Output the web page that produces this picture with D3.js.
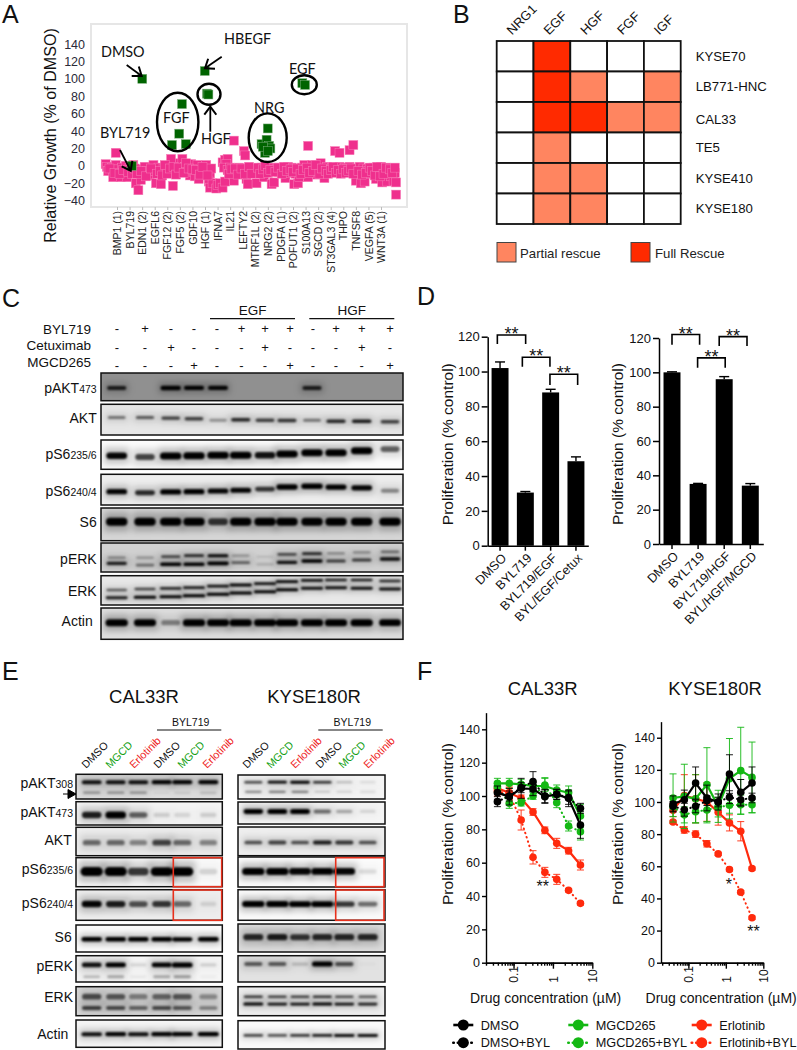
<!DOCTYPE html>
<html><head><meta charset="utf-8">
<script src="https://cdnjs.cloudflare.com/ajax/libs/d3/7.8.5/d3.min.js"></script>
<style>
html,body{margin:0;padding:0;background:#fff}
svg{display:block}
text{font-family:"Liberation Sans",Arial,sans-serif;fill:#111}
</style></head><body>
<script>
// ---------- Panel A data ----------
const screenTicks=["BMP1 (1)","BYL719","EDN1 (2)","EGFL6","FGF12 (2)","FGF5 (2)","GDF10","HGF (1)","IFNA7","IL21","LEFTY2","MTRF1L (2)","NRG2 (2)","PDGFA (1)","POFUT1 (2)","S100A13","SGCD (2)","ST3GAL3 (4)","THPO","TNFSF8","VEGFA (5)","WNT3A (1)"];
const screenTickValues=[140,120,100,80,60,40,20,0,-20,-40];
const screenPink=[[-0.9,2],[-0.8,-1],[-0.7,-6],[-0.4,-2],[-0.3,-13],[-0.1,1],[-0.1,15],[0.1,-4],[0.3,-13],[0.4,-2],[0.6,-7],[0.7,0],[0.8,-13],[1,-2],[1.1,-5],[1.3,1],[1.5,-20],[1.7,-4],[1.7,-28],[1.9,-16],[2.1,-8],[2.2,-1],[2.4,-6],[2.6,-11],[2.9,1],[3,-6],[3.1,-20],[3.3,-2],[3.5,-21],[3.7,-3],[3.9,-7],[4.1,-1],[4.3,8],[4.4,-5],[4.6,-7],[4.45,-23],[4.8,-5],[5,3],[5.1,-7],[5.2,8],[5.4,-1],[5.6,-5],[5.8,-11],[5.9,2],[6.1,-7],[6.2,-12],[6.4,1],[6.5,-15],[6.7,-6],[6.9,-9],[7,-2],[7.1,1],[7.3,-6],[7.4,-9],[7.5,-3],[7.3,-18],[7.4,-25],[7.6,-20],[7.9,-26],[8,-22],[8.2,-20],[8.4,-25],[8.6,-18],[8.4,4],[8.6,7],[8.8,8],[8.7,2],[8.5,-2],[8.8,-5],[9,-2],[9.2,-10],[9.3,-17],[9.5,-6],[9.7,-2],[10,-7],[10.1,-3],[10.3,-15],[10.4,-21],[10.6,-5],[10.8,-3],[11,-7],[11.1,-20],[11.3,-5],[11.5,-2],[11.7,-13],[11.9,-4],[12.1,-2],[12.3,-21],[12.4,-5],[12.5,-19],[12.7,-2],[12.9,-7],[13,-3],[13.2,-5],[13.4,-14],[13.6,-1],[13.7,-8],[13.9,-2],[14.1,-21],[14.2,-9],[14.4,-20],[14.5,-13],[14.7,-2],[14.9,1],[15,-6],[15.2,-13],[15.4,-5],[15.5,1],[15.7,-3],[15.9,-10],[16,-4],[16.2,3],[16.4,-8],[16.5,-14],[16.7,-1],[16.9,-4],[17.1,-2],[17.3,-6],[17.5,-3],[17.7,-1],[17.9,-5],[18.1,-2],[18.3,-4],[18.5,-1],[18.7,-7],[18.9,-4],[19,-17],[19.1,-3],[19.3,-1],[19.4,-20],[19.6,-3],[19.7,-18],[19.9,-4],[20,-6],[20.2,-9],[20.4,-2],[20.6,-15],[20.8,-7],[21,-1],[21.1,-19],[21.3,-4],[21.5,-18],[21.6,-7],[21.8,-12],[22,-3],[22,-17],[22.1,-8],[22.2,-19],[22.2,-33],[9.3,29],[10.1,17],[10.2,12],[15.2,23],[17.35,17],[17.7,15],[18.5,18],[18.8,24],
[-0.6,-3],[-0.2,-8],[0.2,-9],[0.5,-5],[0.9,-7],[1.2,-9],[1.4,-3],[1.6,-9],[1.9,-6],[2.3,-12],[2.7,-3],[3.2,-9],[3.4,-6],[3.6,-11],[3.8,1],[4,-9],[4.2,-3],[4.5,-1],[4.7,-10],[4.9,-2],[5.3,-8],[5.5,3],[5.7,-3],[6,-4],[6.3,-5],[6.6,-10],[6.8,-1],[7.2,-11],[8.9,-9],[9.1,-4],[9.4,-3],[9.6,-10],[9.9,-3],[10.2,-9],[10.5,-1],[10.7,-9],[11.2,-2],[11.4,-9],[11.6,-4],[11.8,0],[12,-8],[12.2,-5],[12.6,-7],[12.8,-2],[13.1,-9],[13.3,-1],[13.5,-6],[13.8,-4],[14,-7],[14.3,-3],[14.6,-9],[14.8,-5],[15.1,-2],[15.3,-8],[15.6,-6],[15.8,1],[16.1,-9],[16.3,-3],[16.6,-6],[16.8,-9],[17,-5],[17.2,-1],[17.4,-8],[17.6,-5],[17.8,-9],[18,-4],[18.2,-8],[18.4,-6],[18.6,-3],[18.8,-9],[19.2,-6],[19.5,-10],[19.8,-8],[20.1,-2],[20.3,-6],[20.5,-11],[20.7,-1],[20.9,-12],[21.2,-9],[21.4,-2],[21.7,-4],[21.9,-8],[22.1,-2]];
const screenGreen=[[2.01,100],[1.17,0],[6.98,109],[7.16,83],[7.27,82],[5.17,71],[4.95,37],[4.37,24],[5.47,25],[11.99,43],[11.5,25],[11.9,30],[12.1,23],[11.77,15],[12.2,20],[11.6,22],[12,17],[14.74,95],[14.96,93]];

// ---------- Panel B data ----------
const rescueLigands=["NRG1","EGF","HGF","FGF","IGF"];
const rescueLines=["KYSE70","LB771-HNC","CAL33","TE5","KYSE410","KYSE180"];
const rescueMatrix=[[0,2,0,0,0],[0,2,1,0,1],[0,2,2,1,1],[0,1,0,0,0],[0,1,1,0,0],[0,1,1,0,0]];

// ---------- Panel C data ----------
const cTreatBYL=["-","+","-","-","-","+","+","+","-","+","+","+"];
const cTreatCet=["-","-","+","-","-","-","+","-","-","-","+","-"];
const cTreatMGCD=["-","-","-","+","-","-","-","+","-","-","-","+"];
const cAktP473=[.7,0,.95,.9,.85,0,0,0,.7,0,0,0];
const cAkt=[.4,.5,.6,.6,.3,.7,.6,.65,.4,.7,.75,.6];
const cS6P235=[.85,.6,1,1,1,1,.8,1,1,1,1,.5];
const cS6P240=[.85,.7,.9,.9,.85,.85,.65,.95,1,.9,.85,.35];
const cS6=[1,1,1,1,.65,1,1,1,1,1,1,1];
const cErkPUpper=[.3,.25,.55,.7,.85,.25,.1,.55,.7,.3,.3,.4];
const cErkPLower=[.75,.4,.95,.95,1,.45,.15,.8,.95,.6,.6,.8];
const cErkUpper=[.5,.6,.7,.75,.8,.85,.8,.85,.8,.75,.75,.7];
const cErkLower=[.75,.85,.85,.9,.9,.9,.85,.85,.8,.8,.8,.8];
const cActin=[1,.95,.35,1,.95,1,.95,1,1,1,1,.9];
// relative migration of bands within each strip
const cMigAkt=[.43,.43,.45,.47,.52,.5,.52,.53,.52,.55,.55,.57];
const cMigS6P235=[.535,.58,.545,.535,.52,.52,.52,.48,.435,.435,.365,.31];
const cMigS6P240=[.565,.6,.575,.565,.545,.52,.48,.415,.39,.415,.44,.535];
const cMigErkPUpper=[.506,.506,.471,.437,.437,.437,.471,.391,.368,.356,.322,.299];
const cMigErkPLower=[.701,.759,.736,.736,.701,.678,.736,.667,.621,.621,.586,.552];
const cMigErkUpper=[.488,.454,.431,.409,.352,.317,.273,.205,.158,.147,.147,.181];
const cMigErkLower=[.751,.738,.715,.682,.636,.591,.545,.477,.431,.409,.431,.454];

// ---------- Panel D data ----------
const dLeftCats=["DMSO","BYL719","BYL719/EGF","BYL/EGF/Cetux"];
const dLeftVals=[102,30.5,88,48.5];
const dLeftErr=[3.5,0.6,1.8,2.5];
const dRightCats=["DMSO","BYL719","BYL719/HGF","BYL/HGF/MGCD"];
const dRightVals=[100,35,96,34];
const dRightErr=[0.3,0.3,1.5,1.2];

// ---------- Panel E data ----------
const eLaneNames=["DMSO","MGCD","Erlotinib","DMSO","MGCD","Erlotinib"];
const eL={a308u:[.8,.8,.8,.85,.85,.85],a308l:[.3,.3,.3,.05,.1,.15],a473:[.75,1,.5,.12,.1,.12],akt:[.45,.45,.35,.6,.45,.35],s235:[1,1,.65,.95,.95,.12],s240:[.85,.75,.55,.65,.45,.1],s6:[.95,.95,.95,.95,.9,1],perku:[.8,.95,.1,.85,1,.12],perkl:[.2,.25,.05,.25,.3,.03],erku:[.55,.5,.35,.45,.5,.3],erkl:[.6,.55,.45,.55,.5,.35],actin:[.8,.85,.8,.85,.85,.9]};
const eR={a308u:[.6,.85,.95,.7,.2,.1],a308l:[.35,.4,.4,.15,.12,.1],a473:[.95,1,1,.45,.25,.1],akt:[.55,.6,.55,.75,.65,.55],s235:[1,1,.85,.9,.85,.1],s240:[1,1,.9,.95,.65,.45],s6:[.7,.75,.65,.7,.7,.7],perku:[.5,.5,.15,1,.55,.02],perkl:[0,0,0,0,0,0],erku:[.65,.6,.6,.65,.55,.5],erkl:[.85,.8,.8,.85,.8,.75],actin:[.6,.55,.65,.75,.8,.8]};

// ---------- Panel F data ----------
const fConc=[0.039,0.078,0.156,0.3125,0.625,1.25,2.5,5];
const calDmso=[102,99.6,104.6,104.2,99.6,101,98.6,82.6], calDmsoE=[4,5,6,4,4,3,5,8];
const calDmsoB=[96.6,100,105,108.6,100,101,99,92.6], calDmsoBE=[3,3,3,6,4,3,4,3];
const calMgcd=[107.6,107.6,107,106,106,103.6,102,88], calMgcdE=[3,3,3,3,5,3,4,7];
const calMgcdB=[105.6,95.6,96,100,106.6,96,82,78.6], calMgcdBE=[3,3,2,2,4,3,3,5];
const calErl=[104.6,102,98.6,90.4,79.4,71.6,67.2,58.6], calErlE=[3,3,2,2,2,3,2,3];
const calErlB=[103,101,85.6,63.2,54.2,50,43.4,35.6], calErlBE=[3,5,6,4,3,3,1,1];
const kysDmso=[98.8,101.4,111.8,102.5,100,117.4,106,111.8], kysDmsoE=[5,6,10,8,5,12,8,10];
const kysDmsoB=[97.3,95.2,97.3,100.8,100,103,101.4,102.5], kysDmsoBE=[3,4,4,3,3,4,4,3];
const kysMgcd=[102.5,103.5,102,110.8,97.3,114.5,119.5,115.3], kysMgcdE=[15,20,15,23,10,25,27,22];
const kysMgcdB=[97,92,94,95,96.7,98,98.3,98.3], kysMgcdBE=[6,5,7,8,6,5,6,5];
const kysErl=[94.8,104,102,100,93.6,87,81.8,58.6], kysErlE=[4,13,15,12,8,5,6,1];
const kysErlB=[87.6,82.6,80,74,67.7,58,43.9,28], kysErlBE=[1,2,2,2,1,1,1,1];

// ---------- helpers ----------
const svg=d3.select("body").append("svg").attr("width",797).attr("height",1050).attr("viewBox","0 0 797 1050");
const defs=svg.append("defs");
[["b1",1.2],["b3",3.2]].forEach(([id,s])=>defs.append("filter").attr("id",id).attr("x","-30%").attr("y","-150%").attr("width","160%").attr("height","400%").append("feGaussianBlur").attr("stdDeviation",s));
defs.append("marker").attr("id","openHead").attr("markerUnits","userSpaceOnUse").attr("markerWidth",14).attr("markerHeight",14).attr("refX",11).attr("refY",7).attr("orient","auto")
 .append("path").attr("d","M3,1 L11,7 L3,13").attr("fill","none").attr("stroke","#000").attr("stroke-width",2);
function txt(g,x,y,s,size,opt={}){const t=g.append("text").attr("x",x).attr("y",y).attr("font-size",size).text(s);
 if(opt.anchor)t.attr("text-anchor",opt.anchor); if(opt.fill)t.style("fill",opt.fill); if(opt.family)t.style("font-family",opt.family); if(opt.rot!==undefined)t.attr("transform",`rotate(${opt.rot},${x},${y})`); return t;}
["A",2,23,"B",453,23,"C",2,307,"D",417,305,"E",2,680,"F",417,680].reduce((a,v,i,arr)=>{if(i%3===0)txt(svg,arr[i+1],arr[i+2],v,25);return a;},0);

// ---------- Panel A ----------
(function(){
 const g=svg.append("g");
 g.append("rect").attr("x",91).attr("y",24).attr("width",316).attr("height",183).attr("fill","#fff").attr("stroke","#e6e6e6").attr("stroke-width",2);
 const x=d3.scaleLinear().domain([0,21]).range([117,381]);
 const y=d3.scaleLinear().domain([-40,140]).range([200.7,44]);
 const ya=g.append("g").attr("transform","translate(87,0)").call(d3.axisLeft(y).tickValues(screenTickValues).tickSize(0).tickPadding(2));
 ya.select(".domain").remove(); ya.selectAll("text").attr("font-size",12.5).style("fill","#2a2a38");
 const xa=g.append("g").attr("transform","translate(0,207)").call(d3.axisBottom(x).tickValues(d3.range(22)).tickSize(3).tickFormat((d,i)=>screenTicks[i]));
 xa.select(".domain").remove(); xa.selectAll("line").attr("stroke","#bbb");
 xa.selectAll("text").attr("font-size",10.5).attr("y",0).attr("x",-4).attr("dy",".35em").attr("text-anchor","end").attr("transform","rotate(-90)").style("fill","#222");
 const sq=9;
 g.append("g").selectAll("rect").data(screenPink).join("rect").attr("x",d=>x(d[0])-sq/2).attr("y",d=>y(d[1])-sq/2).attr("width",sq).attr("height",sq).attr("fill","#ef2f8d").attr("stroke","#f77fb8").attr("stroke-width",.5);
 g.append("g").selectAll("rect").data(screenGreen).join("rect").attr("x",d=>x(d[0])-sq/2).attr("y",d=>y(d[1])-sq/2).attr("width",sq).attr("height",sq).attr("fill","#006400").attr("stroke","#7fb07f").attr("stroke-width",.5);
 const la={family:"Lato, 'Noto Sans', sans-serif"};
 [["DMSO",101,56.7],["HBEGF",224,44.3],["EGF",289,74],["NRG",254,113],["FGF",163,123],["HGF",201,144],["BYL719",100,138]].forEach(d=>txt(g,d[1],d[2],d[0],14.4,la));
 [[177.7,122,20.7,29.3],[209,94.3,11.5,10.5],[267.7,137.7,19,24.3],[304.3,84.7,12.5,9.5]].forEach(e=>g.append("ellipse").attr("cx",e[0]).attr("cy",e[1]).attr("rx",e[2]).attr("ry",e[3]).attr("fill","none").attr("stroke","#000").attr("stroke-width",2.4));
 [[126.7,65,141.7,76],[221.7,56.7,205,68.3],[210.3,131.7,210.3,106.7],[120,150,130.7,170.7]].forEach(a=>g.append("line").attr("x1",a[0]).attr("y1",a[1]).attr("x2",a[2]).attr("y2",a[3]).attr("stroke","#000").attr("stroke-width",1.8).attr("marker-end","url(#openHead)"));
 txt(g,56,135.5,"Relative Growth (% of DMSO)",16.1,{anchor:"middle",rot:-90});
})();

// ---------- Panel B ----------
(function(){
 const g=svg.append("g");
 const x=d3.scaleBand().domain(rescueLigands).range([496.7,680.7]);
 const y=d3.scaleBand().domain(rescueLines).range([41,224]);
 const col=d3.scaleOrdinal([0,1,2],["#ffffff","#ff8560","#ff2a00"]);
 rescueMatrix.forEach((row,r)=>row.forEach((v,c)=>g.append("rect").attr("x",x(rescueLigands[c])).attr("y",y(rescueLines[r])).attr("width",x.bandwidth()).attr("height",y.bandwidth()).attr("fill",col(v)).attr("stroke","#111").attr("stroke-width",1.8)));
 rescueLigands.forEach(l=>txt(g,x(l)+x.bandwidth()/2-3,35.5,l,13,{rot:-45}));
 rescueLines.forEach(l=>txt(g,695.7,y(l)+y.bandwidth()/2+4.5+(l==="CAL33"?2:0),l,13.2));
 [[497,"Partial rescue",520,1],[631,"Full Rescue",655,2]].forEach(d=>{g.append("rect").attr("x",d[0]).attr("y",242.5).attr("width",19).attr("height",19.5).attr("fill",col(d[3])).attr("stroke","#444").attr("stroke-width",1);txt(g,d[2],257.5,d[1],13.2,{fill:"#222"});});
})();

// ---------- Blot helper ----------
let clipN=0;
function blot(g,x0,x1,y0,y1,bg,laneX,laneW,bands){
 const id="cl"+(clipN++);
 defs.append("clipPath").attr("id",id).append("rect").attr("x",x0).attr("y",y0).attr("width",x1-x0).attr("height",y1-y0);
 const c=g.append("g").attr("clip-path",`url(#${id})`);
 c.append("rect").attr("x",x0).attr("y",y0).attr("width",x1-x0).attr("height",y1-y0).attr("fill",bg);
 const yS=d3.scaleLinear().domain([0,1]).range([y0,y1]);
 bands.forEach(b=>{
  const rows=b.ink.map((v,i)=>({i,v,m:Array.isArray(b.mig)?b.mig[i]:b.mig})).filter(d=>d.v>0);
  c.append("g").attr("filter","url(#b3)").selectAll("rect").data(rows).join("rect")
   .attr("x",d=>laneX(d.i)-laneW/2).attr("width",laneW)
   .attr("y",d=>yS(d.m)-b.h*1.2).attr("height",b.h*2.4)
   .attr("fill","#000").attr("fill-opacity",d=>d.v*.25);
  c.append("g").attr("filter","url(#b1)").selectAll("rect").data(rows).join("rect")
   .attr("x",d=>laneX(d.i)-laneW*(.33+.1*d.v)).attr("width",d=>laneW*(.66+.2*d.v))
   .attr("y",d=>yS(d.m)-b.h*(.3+.2*d.v)).attr("height",d=>b.h*(.6+.4*d.v)).attr("rx",d=>b.h*(.3+.2*d.v))
   .attr("fill","#000").attr("fill-opacity",d=>Math.min(1,d.v*1.15));
 });
 g.append("rect").attr("x",x0).attr("y",y0).attr("width",x1-x0).attr("height",y1-y0).attr("fill","none").attr("stroke","#111").attr("stroke-width",1.5);
}
function blotLabel(g,xr,y,main,sub,size=14){
 const t=g.append("text").attr("x",xr).attr("y",y).attr("text-anchor","end").attr("font-size",size).text(main);
 if(sub)t.append("tspan").attr("font-size",10.5).text(sub);
}

// ---------- Panel C ----------
(function(){
 const g=svg.append("g");
 const lanes=d3.scaleOrdinal(d3.range(12),[116.7,145,170.7,194,218,240.7,265,287,312,336,361.7,390]);
 const tx=d3.scaleOrdinal(d3.range(12),[117,145,171,194,217,241.5,265,290,313,336,361.7,390]);
 [[cTreatBYL,328,"BYL719",333.5],[cTreatCet,347,"Cetuximab",349.5],[cTreatMGCD,365,"MGCD265",367]].forEach(r=>{
  txt(g,91,r[3],r[2],13.5,{anchor:"end"});
  r[0].forEach((s,i)=>txt(g,tx(i),r[1]+4.5,s,13,{anchor:"middle"}));
 });
 [["EGF",210,295,252.7],["HGF",309.3,394.3,351.7]].forEach(d=>{g.append("line").attr("x1",d[1]).attr("x2",d[2]).attr("y1",318.7).attr("y2",318.7).attr("stroke","#111").attr("stroke-width",1.2);txt(g,d[3],315,d[0],13.5,{anchor:"middle"});});
 const X0=101,X1=403;
 blot(g,X0,X1,373,400.7,"#909090",lanes,24,[{ink:cAktP473,mig:.54,h:4.5}]);
 blot(g,X0,X1,404.3,435,"#e6e6e6",lanes,24,[{ink:cAkt,mig:cMigAkt,h:4}]);
 blot(g,X0,X1,440,469.3,"#fcfcfc",lanes,25,[{ink:cS6P235,mig:cMigS6P235,h:7}]);
 blot(g,X0,X1,474.3,505,"#eeeeee",lanes,25,[{ink:cS6P240,mig:cMigS6P240,h:5.5}]);
 blot(g,X0,X1,508,540.7,"#d6d6d6",lanes,25,[{ink:cS6,mig:.42,h:8}]);
 blot(g,X0,X1,543,572,"#d2d2d2",lanes,25,[{ink:cErkPUpper,mig:cMigErkPUpper,h:3.2},{ink:cErkPLower,mig:cMigErkPLower,h:3.6}]);
 blot(g,X0,X1,575.7,605,"#e8e8e8",lanes,27,[{ink:cErkUpper,mig:cMigErkUpper,h:3},{ink:cErkLower,mig:cMigErkLower,h:3.2}]);
 blot(g,X0,X1,608,639.3,"#dedede",lanes,26,[{ink:cActin,mig:.47,h:7}]);
 blotLabel(g,96.7,393,"pAKT","473");blotLabel(g,96.7,423,"AKT");blotLabel(g,96.7,459,"pS6","235/6");blotLabel(g,96.7,495.7,"pS6","240/4");
 blotLabel(g,96.7,527,"S6");blotLabel(g,96.7,564,"pERK");blotLabel(g,96.7,595.7,"ERK");blotLabel(g,92.7,626,"Actin");
})();

// ---------- Panel D ----------
function barPanel(cats,vals,errs,xr,y0,yTop,pInner,pOuter,lx,brackets){
 const g=svg.append("g");
 const x=d3.scaleBand().domain(cats).range(xr).paddingInner(pInner).paddingOuter(pOuter);
 const y=d3.scaleLinear().domain([0,120]).range([y0,yTop]);
 g.selectAll("rect.bar").data(vals).join("rect").attr("class","bar").attr("x",(d,i)=>x(cats[i])).attr("width",x.bandwidth()).attr("y",d=>y(d)).attr("height",d=>y0-y(d)).attr("fill","#000");
 vals.forEach((v,i)=>{const c=x(cats[i])+x.bandwidth()/2;
  g.append("line").attr("x1",c).attr("x2",c).attr("y1",y(v)).attr("y2",y(v+errs[i])).attr("stroke","#000").attr("stroke-width",1.4);
  g.append("line").attr("x1",c-5).attr("x2",c+5).attr("y1",y(v+errs[i])).attr("y2",y(v+errs[i])).attr("stroke","#000").attr("stroke-width",1.4);});
 const ya=g.append("g").attr("transform",`translate(${xr[0]},0)`).call(d3.axisLeft(y).tickValues([0,20,40,60,80,100,120]).tickSize(6).tickPadding(2).tickSizeOuter(0));
 const xa=g.append("g").attr("transform",`translate(0,${y0})`).call(d3.axisBottom(x).tickSize(5).tickSizeOuter(0));
 [ya,xa].forEach(a=>{a.selectAll("path,line").attr("stroke","#000").attr("stroke-width",1.5);});
 ya.selectAll("text").attr("font-size",13).style("fill","#111");
 xa.selectAll("text").attr("font-size",12.6).attr("y",0).attr("x",0).attr("dy",".35em").attr("text-anchor","end").attr("transform","translate(4,10) rotate(-45)").style("fill","#111");
 brackets.forEach(b=>{const a=x(cats[b[0]])+x.bandwidth()/2+b[4],c=x(cats[b[1]])+x.bandwidth()/2+b[5];
  g.append("path").attr("d",d3.line()([[a,y(b[3])],[a,y(b[2])],[c,y(b[2])],[c,y(b[3])]])).attr("fill","none").attr("stroke","#000").attr("stroke-width",1.6);
  txt(g,(a+c)/2,y(b[2])+5,"**",18,{anchor:"middle"});});
 txt(g,lx,(y0+yTop)/2+3,"Proliferation (% control)",15.5,{anchor:"middle",rot:-90});
}
barPanel(dLeftCats,dLeftVals,dLeftErr,[487.7,588.3],545.7,336.7,.33,.153,453,[[0,1,121,115.8,-2.7,0.3],[1,2,108.2,102.8,-3,-0.7],[2,3,98.4,92.3,-0.7,1.7]]);
barPanel(dRightCats,dRightVals,dRightErr,[659,763.3],544,338,.35,.173,623,[[0,1,122,116,0,1.5],[1,2,108.4,102.7,-0.5,1],[2,3,120.8,115.3,-5,-3.3]]);

// ---------- Panel E ----------
(function(){
 const g=svg.append("g");
 txt(g,144,703,"CAL33R",18.5,{anchor:"middle"});txt(g,314,703,"KYSE180R",18.5,{anchor:"middle"});
 [[190.7,157,221.3],[352.3,318.3,382.7]].forEach(d=>{txt(g,d[0],726,"BYL719",10.5,{anchor:"middle"});g.append("line").attr("x1",d[1]).attr("x2",d[2]).attr("y1",730).attr("y2",730).attr("stroke","#111").attr("stroke-width",1.2);});
 const nameCol={DMSO:"#111",MGCD:"#12a012",Erlotinib:"#ee1c1c"};
 const labelX=[[86,110,134,158,182,207],[247,271,295,320,343,368]];
 labelX.forEach(xs=>xs.forEach((x,i)=>txt(g,x,769,eLaneNames[i],10.8,{rot:-45,fill:nameCol[eLaneNames[i]]})));
 const lL=d3.scaleOrdinal(d3.range(6),[91.7,115.7,138.3,161.7,182.3,208.3]);
 const lR=d3.scaleOrdinal(d3.range(6),[253.3,277.3,300,322.3,344.3,367.7]);
 const L=[76,222.3],R=[238,385];
 blot(g,L[0],L[1],774.3,799,"#dedede",lL,24,[{ink:eL.a308u,mig:.32,h:4.5},{ink:eL.a308l,mig:.745,h:3}]);
 blot(g,R[0],R[1],775,799,"#f5f5f5",lR,23,[{ink:eR.a308u,mig:.3,h:3},{ink:eR.a308l,mig:.7,h:3}]);
 blot(g,L[0],L[1],801.7,825,"#f5f5f5",lL,24,[{ink:eL.a473,mig:.57,h:7}]);
 blot(g,R[0],R[1],802,824,"#f5f5f5",lR,23,[{ink:eR.a473,mig:.43,h:5}]);
 blot(g,L[0],L[1],827.3,855.7,"#eeeeee",lL,24,[{ink:eL.akt,mig:.54,h:7}]);
 blot(g,R[0],R[1],827,855.7,"#eeeeee",lR,23,[{ink:eR.akt,mig:.54,h:4.5}]);
 blot(g,L[0],L[1],857.7,886.7,"#fcfcfc",lL,26,[{ink:eL.s235,mig:.48,h:9}]);
 blot(g,R[0],R[1],857,887,"#fcfcfc",lR,26,[{ink:eR.s235,mig:.48,h:7}]);
 blot(g,L[0],L[1],889.7,920.3,"#eeeeee",lL,24,[{ink:eL.s240,mig:.47,h:7}]);
 blot(g,R[0],R[1],889.7,920.3,"#fafafa",lR,26,[{ink:eR.s240,mig:.47,h:6}]);
 blot(g,L[0],L[1],925,952,"#fbfbfb",lL,24,[{ink:eL.s6,mig:.53,h:4.5}]);
 blot(g,R[0],R[1],924,952,"#dcdcdc",lR,25,[{ink:eR.s6,mig:.47,h:7}]);
 blot(g,L[0],L[1],955.7,982,"#f6f6f6",lL,24,[{ink:eL.perku,mig:.35,h:5},{ink:eL.perkl,mig:.8,h:4}]);
 blot(g,R[0],R[1],955.7,982,"#e2e2e2",lR,24,[{ink:eR.perku,mig:.32,h:5}]);
 blot(g,L[0],L[1],986.7,1015.7,"#dcdcdc",lL,25,[{ink:eL.erku,mig:.345,h:7},{ink:eL.erkl,mig:.735,h:5}]);
 blot(g,R[0],R[1],986.7,1015.7,"#eeeeee",lR,24,[{ink:eR.erku,mig:.345,h:3},{ink:eR.erkl,mig:.6,h:3.2}]);
 blot(g,L[0],L[1],1020,1047.3,"#f5f5f5",lL,25,[{ink:eL.actin,mig:.52,h:4.5}]);
 blot(g,R[0],R[1],1020.7,1049,"#fafafa",lR,25,[{ink:eR.actin,mig:.52,h:3.2}]);
 blotLabel(g,73,788,"pAKT","308");blotLabel(g,73,816.7,"pAKT","473");blotLabel(g,71.7,845,"AKT");blotLabel(g,73,874,"pS6","235/6");blotLabel(g,73,908,"pS6","240/4");
 blotLabel(g,71.7,942,"S6");blotLabel(g,73,971,"pERK");blotLabel(g,73,1001.7,"ERK");blotLabel(g,68.3,1039,"Actin");
 g.append("path").attr("d","M63,794 L68,794 L68,789.5 L76,794 L68,798.5 L68,794").attr("fill","#000").attr("stroke","#000").attr("stroke-width",1);
 [[173.3,221.7],[335.7,384]].forEach(d=>[[857.7,886.7],[890,920.3]].forEach(y=>g.append("rect").attr("x",d[0]).attr("y",y[0]).attr("width",d[1]-d[0]).attr("height",y[1]-y[0]).attr("fill","none").attr("stroke","#e8301c").attr("stroke-width",1.6)));
})();

// ---------- Panel F ----------
const fBlack="#000",fGreen="#14b814",fRed="#ff2a0d";
function dosePanel(title,tx,axisX,rightX,pxUnit,domainMin,lx,series,stars){
 const g=svg.append("g");
 txt(g,tx,695,title,18.5,{anchor:"middle"});
 const y0=962.7;
 const y=d3.scaleLinear().domain([0,150]).range([y0,y0-pxUnit*150]);
 const x=d3.scaleLog().domain([domainMin,10]).range([axisX,rightX]);
 const minor=[];[0.01,0.1,1].forEach(b=>d3.range(1,10).forEach(k=>{const v=b*k;if(v>=domainMin&&v<=10)minor.push(v);}));
 const xa=g.append("g").attr("transform",`translate(0,${y0})`).call(d3.axisBottom(x).tickValues(minor).tickSize(3).tickSizeOuter(0).tickFormat(""));
 const xb=g.append("g").attr("transform",`translate(0,${y0})`).call(d3.axisBottom(x).tickValues([0.1,1,10]).tickSize(6).tickSizeOuter(0).tickFormat(d3.format("")));
 const ya=g.append("g").attr("transform",`translate(${axisX},0)`).call(d3.axisLeft(y).tickValues([0,20,40,60,80,100,120,140]).tickSize(4).tickPadding(2).tickSizeOuter(0));
 [xa,xb,ya].forEach(a=>a.selectAll("path,line").attr("stroke","#000").attr("stroke-width",1.4));
 ya.selectAll("text").attr("font-size",12.5).style("fill","#111");
 xb.selectAll("text").attr("font-size",12).attr("y",0).attr("x",-20).attr("dy",".35em").attr("text-anchor","start").attr("transform","rotate(-90)").style("fill","#111");
 series.forEach(s=>{
  s.vals.forEach((v,i)=>{const cx=x(fConc[i]),t=y(v+s.err[i]),b=y(v-s.err[i]);
   g.append("path").attr("d",`M${cx-3.5},${t}H${cx+3.5}M${cx},${t}V${b}M${cx-3.5},${b}H${cx+3.5}`).attr("fill","none").attr("stroke",s.color).attr("stroke-width",.9);});
  g.append("path").datum(s.vals).attr("d",d3.line().x((d,i)=>x(fConc[i])).y(d=>y(d))).attr("fill","none").attr("stroke",s.color).attr("stroke-width",s.dot?2:2.2).attr("stroke-dasharray",s.dot?"0.5,4":null).attr("stroke-linecap",s.dot?"round":"butt");
  g.selectAll(null).data(s.vals).join("circle").attr("cx",(d,i)=>x(fConc[i])).attr("cy",d=>y(d)).attr("r",3.8).attr("fill",s.color);
 });
 stars.forEach(st=>txt(g,x(st[0]),y(st[1])+8,st[2],16,{anchor:"middle"}));
 txt(g,lx,824,"Proliferation (% control)",15.5,{anchor:"middle",rot:-90});
 txt(g,(axisX+rightX)/2-(axisX<600?-6.5:-9),1003.3,"Drug concentration (µM)",14,{anchor:"middle"});
}
dosePanel("CAL33R",542.7,486,592.3,1.667,0.02,452.7,[
 {vals:calErlB,err:calErlBE,color:fRed,dot:1},{vals:calErl,err:calErlE,color:fRed},
 {vals:calMgcdB,err:calMgcdBE,color:fGreen,dot:1},{vals:calMgcd,err:calMgcdE,color:fGreen},
 {vals:calDmsoB,err:calDmsoBE,color:fBlack,dot:1},{vals:calDmso,err:calDmsoE,color:fBlack}],
 [[0.55,47,"**"]]);
dosePanel("KYSE180R",715,661,763.3,1.607,0.0186,623.3,[
 {vals:kysErlB,err:kysErlBE,color:fRed,dot:1},{vals:kysErl,err:kysErlE,color:fRed},
 {vals:kysMgcdB,err:kysMgcdBE,color:fGreen,dot:1},{vals:kysMgcd,err:kysMgcdE,color:fGreen},
 {vals:kysDmsoB,err:kysDmsoBE,color:fBlack,dot:1},{vals:kysDmso,err:kysDmsoE,color:fBlack}],
 [[1.2,50,"*"],[5.5,21,"**"]]);

// F legend
(function(){
 const g=svg.append("g");
 const items=[["DMSO",453.3,480.7,fBlack,0,0],["DMSO+BYL",453.3,480.7,fBlack,1,1],["MGCD265",568.3,595.7,fGreen,0,0],["MGCD265+BYL",568.3,595.7,fGreen,1,1],["Erlotinib",691.7,719.3,fRed,0,0],["Erlotinib+BYL",691.7,719.3,fRed,1,1]];
 const rowY=[1025,1042.7];
 items.forEach(d=>{const y=rowY[d[5]];
  g.append("line").attr("x1",d[1]).attr("x2",d[1]+20).attr("y1",y).attr("y2",y).attr("stroke",d[3]).attr("stroke-width",2.6).attr("stroke-dasharray",d[4]?"0.5,4":null).attr("stroke-linecap",d[4]?"round":"butt");
  g.append("circle").attr("cx",d[1]+10).attr("cy",y).attr("r",5.5).attr("fill",d[3]);
  txt(g,d[2],y+4.5,d[0],12.7,{fill:"#111"});});
})();
</script></body></html>
